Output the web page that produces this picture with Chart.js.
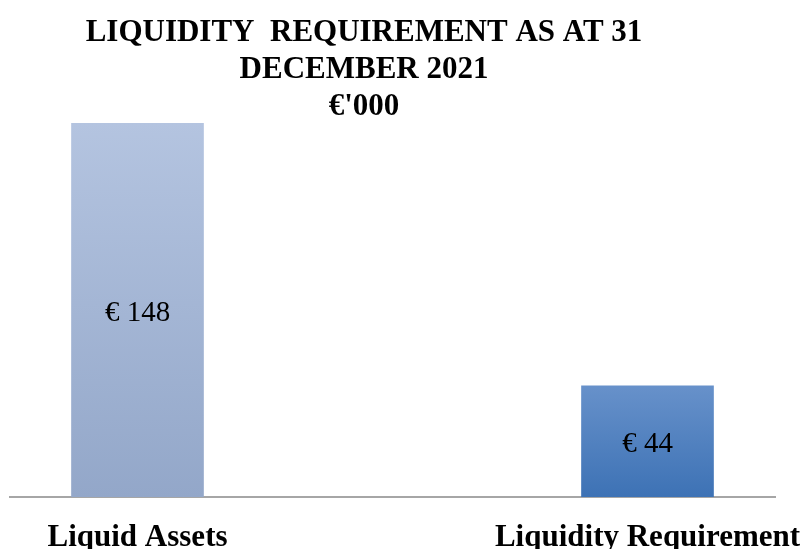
<!DOCTYPE html>
<html>
<head>
<meta charset="utf-8">
<script src="https://cdn.jsdelivr.net/npm/chart.js@4/dist/chart.umd.min.js"></script>
<style>
  html, body { margin: 0; padding: 0; background: #fff; }
  #wrap { width: 809px; height: 549px; }
</style>
</head>
<body>
<div id="wrap"><canvas id="grafico"></canvas></div>
<script>
const categorias = ['Liquid Assets', 'Liquidity Requirement'];
const valores = [148, 44];
const rotulos = ['€ 148', '€ 44'];
const tituloLinhas = ['LIQUIDITY  REQUIREMENT AS AT 31', 'DECEMBER 2021', "€'000"];

const coresTopo = ['#b4c4e0', '#6791ca'];
const coresBase = ['#93a7c9', '#3d72b5'];
const fonte = '"Liberation Serif", "Times New Roman", serif';

// titulo em tres linhas, centrado como no original
const tituloPlugin = {
    id: 'titulo',
    afterDraw(chart) {
        const ctx = chart.ctx;
        ctx.save();
        ctx.font = 'bold 31px ' + fonte;
        ctx.fillStyle = '#000';
        ctx.textAlign = 'center';
        ctx.textBaseline = 'alphabetic';
        tituloLinhas.forEach((linha, i) => {
            ctx.fillText(linha, 364, 41 + i * 37);
        });
        ctx.restore();
    }
};

// rotulos dentro das barras
const rotulosPlugin = {
    id: 'rotulos',
    afterDatasetsDraw(chart) {
        const ctx = chart.ctx;
        const meta = chart.getDatasetMeta(0);
        ctx.save();
        ctx.font = '29px ' + fonte;
        ctx.fillStyle = '#000';
        ctx.textAlign = 'center';
        ctx.textBaseline = 'middle';
        meta.data.forEach((barra, i) => {
            const p = barra.getProps(['x', 'y', 'base'], true);
            ctx.fillText(rotulos[i], p.x, (p.y + p.base) / 2 + 3);
        });
        ctx.restore();
    }
};

new Chart(document.getElementById('grafico'), {
    type: 'bar',
    data: {
        datasets: [{
            data: valores.map((v, i) => ({ x: i, y: v })),
            barThickness: 132,
            borderWidth: 0,
            backgroundColor(c) {
                const chart = c.chart;
                const i = c.dataIndex;
                if (!chart.chartArea || i === undefined) return coresTopo[0];
                const topo = chart.scales.y.getPixelForValue(valores[i]);
                const base = chart.scales.y.getPixelForValue(0);
                const g = chart.ctx.createLinearGradient(0, topo, 0, base);
                g.addColorStop(0, coresTopo[i]);
                g.addColorStop(1, coresBase[i]);
                return g;
            }
        }]
    },
    options: {
        responsive: true,
        maintainAspectRatio: false,
        animation: false,
        layout: { padding: { left: 10, right: 34, top: 123, bottom: 0 } },
        plugins: {
            legend: { display: false },
            tooltip: { enabled: false },
            title: { display: false }
        },
        scales: {
            x: {
                type: 'linear',
                offset: false,
                min: -0.25,
                max: 1.25,
                grid: { display: false, drawTicks: false },
                border: { display: true, color: '#a6a6a6', width: 2 },
                afterBuildTicks(scale) {
                    scale.ticks = categorias.map((_, i) => ({ value: i }));
                },
                afterFit(scale) {
                    // os rotulos podem passar da area do grafico, como no original
                    scale.height = 52;
                    scale.paddingLeft = 0;
                    scale.paddingRight = 0;
                },
                ticks: {
                    autoSkip: false,
                    maxRotation: 0,
                    padding: 25,
                    color: '#000',
                    font: { family: fonte, size: 31, weight: 'bold', lineHeight: 1.0 },
                    callback: (v) => categorias[v]
                }
            },
            y: {
                display: false,
                min: 0,
                max: 148
            }
        }
    },
    plugins: [tituloPlugin, rotulosPlugin]
});
</script>
</body>
</html>
